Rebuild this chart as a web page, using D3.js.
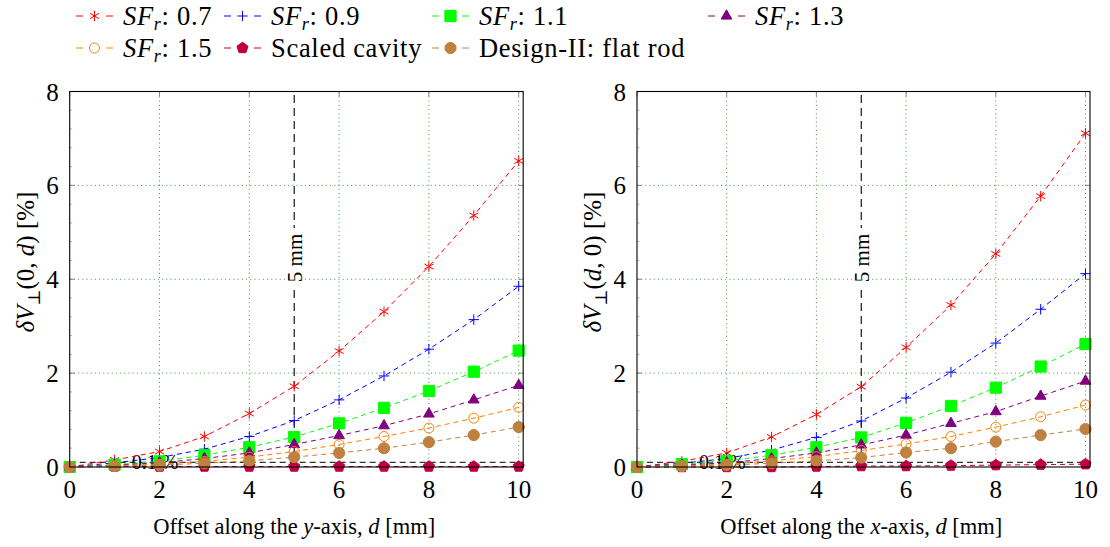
<!DOCTYPE html>
<html><head><meta charset="utf-8">
<script src="https://cdn.jsdelivr.net/npm/d3@7"></script>
<style>body{margin:0;background:#fff} svg{display:block} text{font-family:"Liberation Serif","DejaVu Serif",serif;fill:#000}</style>
</head><body><svg id="c" width="1110" height="547"></svg>
<script>
// ---------- data ----------
const offsets = [0,1,2,3,4,5,6,7,8,9,10];
const xTicks = [0,2,4,6,8,10];
const yTicks = [0,2,4,6,8];
const seriesLabels = ["0.7","0.9","1.1","1.3","1.5","Scaled cavity","Design-II: flat rod"];
// left panel: offset along y-axis
const ySF07 = [0,0.15,0.33,0.65,1.14,1.72,2.47,3.31,4.27,5.36,6.52];
const ySF09 = [0,0.09,0.2,0.38,0.65,0.99,1.43,1.94,2.51,3.14,3.85];
const ySF11 = [0,0.05,0.12,0.25,0.42,0.64,0.93,1.26,1.62,2.03,2.48];
const ySF13 = [0,0.04,0.09,0.18,0.3,0.48,0.67,0.88,1.13,1.43,1.74];
const ySF15 = [0,0.03,0.06,0.12,0.21,0.33,0.48,0.65,0.83,1.04,1.27];
const yCavity = [0,0.01,0.01,0.01,0.01,0.01,0.01,0.01,0.01,0.01,0.01];
const yFlatRod = [0,0.02,0.04,0.08,0.13,0.21,0.3,0.4,0.53,0.68,0.85];
// right panel: offset along x-axis
const xSF07 = [0,0.12,0.3,0.64,1.12,1.71,2.55,3.45,4.54,5.77,7.11];
const xSF09 = [0,0.08,0.18,0.36,0.63,0.98,1.47,2.02,2.64,3.36,4.12];
const xSF11 = [0,0.06,0.13,0.25,0.42,0.63,0.94,1.3,1.69,2.14,2.62];
const xSF13 = [0,0.04,0.09,0.18,0.3,0.47,0.68,0.93,1.18,1.51,1.83];
const xSF15 = [0,0.03,0.06,0.13,0.22,0.35,0.49,0.65,0.85,1.07,1.32];
const xCavity = [0,0,0,0,0.01,0.02,0.02,0.03,0.04,0.05,0.06];
const xFlatRod = [0,0.02,0.04,0.08,0.13,0.2,0.31,0.4,0.54,0.68,0.81];
const refLevel = 0.1;   // 0.1 % line
const refOffset = 5;    // 5 mm line

// ---------- styles ----------
const colors = ["#ff0000","#0000ff","#00ff00","#800080","#ff8000","#bf0040","#bf8040"];
const markers = ["asterisk","plus","square","triangle","circleOpen","pentagon","circle"];
const FS = 25;

const svg = d3.select("#c");

function markerPath(type){
  const r=5.2;
  if(type==="asterisk"){const a=r*0.866,b=r*0.5;return `M0,${-r}L0,${r}M${-a},${-b}L${a},${b}M${-a},${b}L${a},${-b}`;}
  if(type==="plus") return `M0,${-r}L0,${r}M${-r},0L${r},0`;
  if(type==="square"){const s=5.6;return `M${-s},${-s}H${s}V${s}H${-s}Z`;}
  if(type==="triangle"){const s=6.2;return `M0,${-s}L${s*0.866},${s*0.5}L${-s*0.866},${s*0.5}Z`;}
  if(type==="pentagon"){const s=5.8;let p=[];for(let k=0;k<5;k++){const t=-Math.PI/2+k*2*Math.PI/5;p.push([s*Math.cos(t),s*Math.sin(t)]);}return "M"+p.map(q=>q.join(",")).join("L")+"Z";}
  if(type==="circleOpen"){const s=5;return `M${s},0A${s},${s} 0 1 1 ${-s},0A${s},${s} 0 1 1 ${s},0Z`;}
  const s=5.6;return `M${s},0A${s},${s} 0 1 1 ${-s},0A${s},${s} 0 1 1 ${s},0Z`;
}
function drawMarker(g,type,color,x,y){
  const filled = ["square","triangle","pentagon","circle"].includes(type);
  g.append("path").attr("d",markerPath(type)).attr("transform",`translate(${x},${y})`)
    .attr("fill",filled?color:"none").attr("stroke",color).attr("stroke-width",1);
}

function panel(cfg){
  const x = d3.scaleLinear().domain([0,10.1]).range([cfg.x0, cfg.x0 + 10.1*cfg.ux]);
  const y = d3.scaleLinear().domain([0,8]).range([467,91.5]);
  const g = svg.append("g");
  const [X0,X1]=x.range(), [Y0,Y1]=y.range();
  // grid
  g.append("g").selectAll("line").data(xTicks.filter(d=>d>0)).join("line")
    .attr("x1",d=>x(d)).attr("x2",d=>x(d)).attr("y1",Y0).attr("y2",Y1)
    .attr("stroke","#3a9a3a").attr("stroke-width",1).attr("stroke-dasharray","1,3.2");
  g.append("g").selectAll("line").data(yTicks.filter(d=>d>0&&d<8)).join("line")
    .attr("y1",d=>y(d)).attr("y2",d=>y(d)).attr("x1",X0).attr("x2",X1)
    .attr("stroke","#3a9a3a").attr("stroke-width",1).attr("stroke-dasharray","1,3.2");
  // minor ticks on y axis
  const minor = d3.range(0,8.01,0.4);
  g.append("g").selectAll("line").data(minor).join("line")
    .attr("x1",X0).attr("x2",X0+2.5).attr("y1",d=>y(d)).attr("y2",d=>y(d)).attr("stroke","#888").attr("stroke-width",0.6);
  // major ticks (inward, grey)
  g.append("g").selectAll("line").data(yTicks).join("line")
    .attr("x1",X0).attr("x2",X0+5).attr("y1",d=>y(d)).attr("y2",d=>y(d)).attr("stroke","#888");
  g.append("g").selectAll("line").data(yTicks).join("line")
    .attr("x1",X1).attr("x2",X1-5).attr("y1",d=>y(d)).attr("y2",d=>y(d)).attr("stroke","#888");
  g.append("g").selectAll("line").data(xTicks).join("line")
    .attr("x1",d=>x(d)).attr("x2",d=>x(d)).attr("y1",Y0).attr("y2",Y0-5).attr("stroke","#888");
  g.append("g").selectAll("line").data(xTicks).join("line")
    .attr("x1",d=>x(d)).attr("x2",d=>x(d)).attr("y1",Y1).attr("y2",Y1+5).attr("stroke","#888");
  // tick labels
  g.append("g").selectAll("text").data(yTicks).join("text")
    .attr("x",X0-11).attr("y",d=>y(d)).attr("dy","0.36em").attr("text-anchor","end")
    .attr("font-size",FS).text(d=>d);
  g.append("g").selectAll("text").data(xTicks).join("text")
    .attr("x",d=>x(d)).attr("y",Y0+22).attr("dy","0.36em").attr("text-anchor","middle")
    .attr("font-size",FS).text(d=>d);
  // reference: 0.1 % label and line
  g.append("text").attr("x",x(1.9)).attr("y",y(refLevel)).attr("dy","0.34em").attr("text-anchor","middle")
    .attr("font-size",20).text("0.1 %");
  g.append("line").attr("x1",X0).attr("x2",X1).attr("y1",y(refLevel)).attr("y2",y(refLevel))
    .attr("stroke","#000").attr("stroke-width",1).attr("stroke-dasharray","6,4");
  // vertical 5 mm line
  g.append("line").attr("x1",x(refOffset)).attr("x2",x(refOffset)).attr("y1",Y0).attr("y2",Y1)
    .attr("stroke","#000").attr("stroke-width",1.1).attr("stroke-dasharray","8,5");
  const ly = cfg.labY;
  g.append("rect").attr("x",x(refOffset)-9).attr("y",ly-30).attr("width",18).attr("height",60).attr("fill","#fff");
  g.append("text").attr("transform",`translate(${x(refOffset)},${ly}) rotate(-90)`).attr("dy","0.35em")
    .attr("text-anchor","middle").attr("font-size",21).text("5 mm");
  // series
  const line = d3.line().x((d,i)=>x(offsets[i])).y(d=>y(d));
  cfg.series.forEach((s,k)=>{
    g.append("path").attr("d",line(s)).attr("fill","none").attr("stroke",colors[k])
      .attr("stroke-width",1).attr("stroke-dasharray","5,4");
    s.forEach((v,i)=>drawMarker(g,markers[k],colors[k],x(offsets[i]),y(v)));
  });
  // frame
  g.append("rect").attr("x",X0).attr("y",Y1).attr("width",X1-X0).attr("height",Y0-Y1)
    .attr("fill","none").attr("stroke","#000").attr("stroke-width",1.1);
  // axis labels
  const xl = g.append("text").attr("x",(x(0)+x(10))/2).attr("y",534).attr("text-anchor","middle")
    .attr("font-size",22.5);
  xl.append("tspan").text("Offset along the ");
  xl.append("tspan").attr("font-style","italic").text(cfg.axisVar);
  xl.append("tspan").text("-axis, ");
  xl.append("tspan").attr("font-style","italic").text("d");
  xl.append("tspan").text(" [mm]");
  const yl = g.append("text").attr("transform",`translate(${cfg.ylabX},262) rotate(-90)`)
    .attr("text-anchor","middle").attr("font-size",FS);
  yl.append("tspan").attr("font-style","italic").text("δV");
  yl.append("tspan").attr("font-size",17).attr("dy",6).text("⊥");
  yl.append("tspan").attr("dy",-6).text("(");
  cfg.argParts.forEach(p=>yl.append("tspan").attr("font-style",p[1]?"italic":"normal").text(p[0]));
  yl.append("tspan").text(") [%]");
}

panel({x0:69.7, ux:44.9, labY:258, ylabX:34, axisVar:"y",
  argParts:[["0",false],[", ",false],["d",true]],
  series:[ySF07,ySF09,ySF11,ySF13,ySF15,yCavity,yFlatRod]});
panel({x0:637, ux:44.85, labY:258, ylabX:601, axisVar:"x",
  argParts:[["d",true],[", ",false],["0",false]],
  series:[xSF07,xSF09,xSF11,xSF13,xSF15,xCavity,xFlatRod]});

// ---------- legend ----------
const legCols = [76,224,432,708];
const legRows = [16,48];
seriesLabels.forEach((lab,k)=>{
  const col = k%4, row = Math.floor(k/4);
  const x0 = legCols[col], yy = legRows[row];
  const g = svg.append("g");
  g.append("line").attr("x1",x0).attr("x2",x0+37).attr("y1",yy).attr("y2",yy)
    .attr("stroke",colors[k]).attr("stroke-width",1).attr("stroke-dasharray","7,23");
  drawMarker(g,markers[k],colors[k],x0+18.5,yy);
  const t = g.append("text").attr("x",x0+47).attr("y",yy).attr("dy","0.34em").attr("font-size",26.5).attr("letter-spacing",0.7);
  if(k<5){
    t.append("tspan").attr("font-style","italic").text("SF");
    t.append("tspan").attr("font-style","italic").attr("font-size",18).attr("dy",5).text("r");
    t.append("tspan").attr("dy",-5).text(": " + lab);
  } else t.text(lab);
});
</script></body></html>
